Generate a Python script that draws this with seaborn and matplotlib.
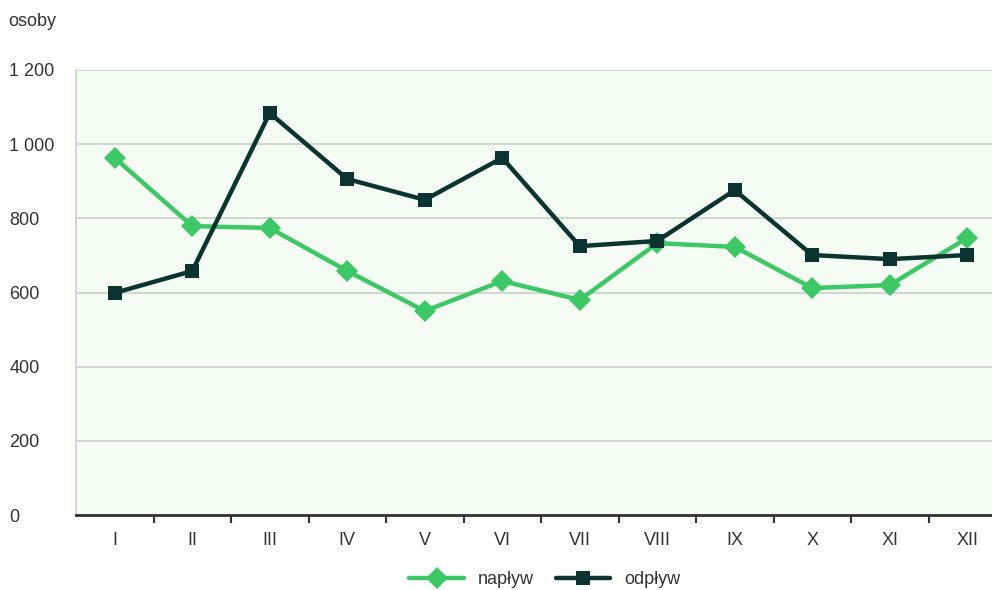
import matplotlib.pyplot as plt
import seaborn as sns
import pandas as pd
import numpy as np

# dane
miesiace = ["I", "II", "III", "IV", "V", "VI", "VII", "VIII", "IX", "X", "XI", "XII"]
naplyw = [963, 779, 774, 658, 550, 631, 580, 733, 723, 612, 620, 747]
odplyw = [599, 658, 1084, 906, 850, 963, 725, 739, 876, 701, 690, 701]

df = pd.DataFrame({"miesiac": miesiace, "napływ": naplyw, "odpływ": odplyw})
x = np.arange(len(miesiace))

sns.set_style("white")
plt.rcParams['font.family'] = ['Liberation Sans', 'DejaVu Sans']

fig = plt.figure(figsize=(9.92, 5.9), dpi=100)
ax = fig.add_axes([76/992, 75/590, 930/992, 445/590])
ax.set_facecolor("#f5fcf4")

sns.lineplot(x=x, y=df["napływ"], ax=ax, color="#3cc864", lw=3.2,
             marker="D", markersize=11, markeredgewidth=0, label="napływ")
sns.lineplot(x=x, y=df["odpływ"], ax=ax, color="#0b3430", lw=3.2,
             marker="s", markersize=10, markeredgewidth=0, label="odpływ")

ax.set_xlim(-0.5, 11.5)
ax.set_ylim(0, 1200)
ax.set_yticks(range(0, 1201, 200))
ax.set_yticklabels(["0", "200", "400", "600", "800", "1 000", "1 200"])
ax.set_xticks(x)
ax.set_xticklabels(miesiace)
ax.set_xticks(np.arange(0.5, 11.5, 1), minor=True)
ax.tick_params(axis="x", which="major", bottom=True, length=0, pad=12, labelsize=13, labelcolor="#333333")
ax.tick_params(axis="x", which="minor", bottom=True, length=6, width=1.5, color="#333333", direction="out")
ax.tick_params(axis="y", length=0, pad=48, labelsize=13, labelcolor="#333333")
for t in ax.get_yticklabels():
    t.set_horizontalalignment("left")

ax.grid(axis="y", color="#cdd3cd", lw=1.3)
ax.set_axisbelow(True)
for s in ["top", "right"]:
    ax.spines[s].set_visible(False)
ax.spines["left"].set_color("#cdd3cd")
ax.spines["left"].set_linewidth(1.3)
ax.spines["bottom"].set_color("#333333")
ax.spines["bottom"].set_linewidth(2)
ax.set_xlabel("")
ax.set_ylabel("")

fig.text(8/992, 1 - 22/590, "osoby", fontsize=13, color="#333333", va="center")

ax.legend(loc="center", bbox_to_anchor=(545/992, 1 - 580/590), bbox_transform=fig.transFigure,
          ncol=2, frameon=False, fontsize=13, handlelength=3, columnspacing=1.2,
          handletextpad=0.8, labelcolor="#333333")

fig.savefig("out.png", dpi=100)
